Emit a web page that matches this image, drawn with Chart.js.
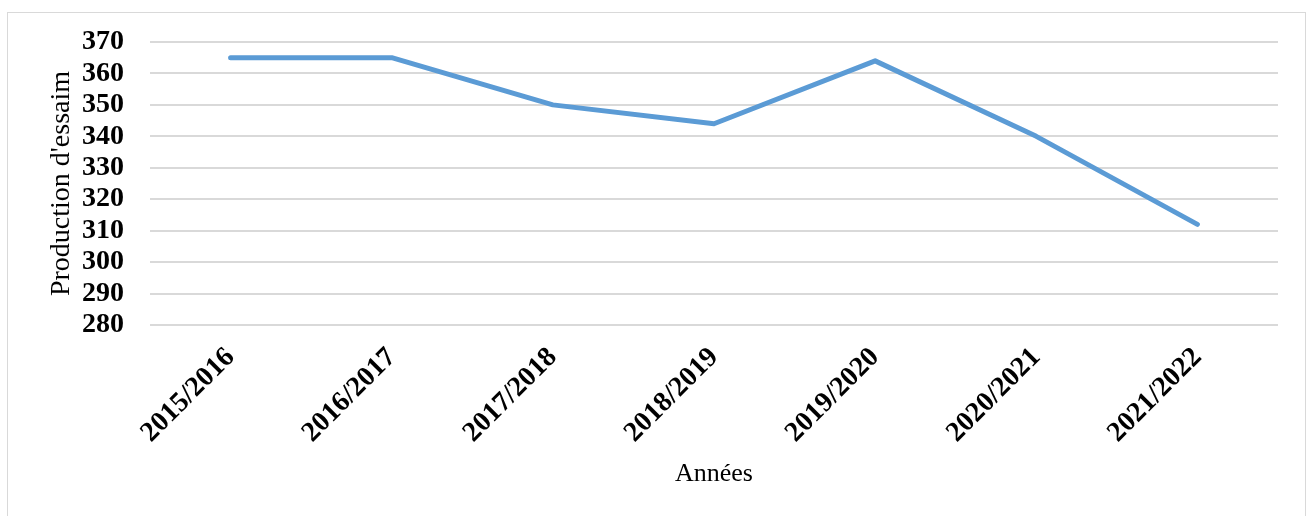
<!DOCTYPE html>
<html>
<head>
<meta charset="utf-8">
<script src="https://cdn.jsdelivr.net/npm/chart.js"></script>
<style>
  html, body { margin: 0; padding: 0; background: #fff; }
  #box {
    position: absolute; left: 7px; top: 12px;
    width: 1297px; height: 503px;
    border: 1px solid #d9d9d9;
  }
</style>
</head>
<body>
<div id="box"><canvas id="lineChart"></canvas></div>
<script>
const years = ['2015/2016', '2016/2017', '2017/2018', '2018/2019', '2019/2020', '2020/2021', '2021/2022'];
const swarms = [365, 365, 350, 344, 364, 340, 312];
const yTicks = [280, 290, 300, 310, 320, 330, 340, 350, 360, 370];

const serif = "'Liberation Serif', 'Times New Roman', serif";

new Chart(document.getElementById('lineChart'), {
    type: 'line',
    data: {
        labels: years,
        datasets: [{
            data: swarms,
            borderColor: '#5b9bd5',
            borderWidth: 5,
            pointRadius: 0,
            borderCapStyle: 'round',
            borderJoinStyle: 'round',
            tension: 0
        }]
    },
    options: {
        responsive: true,
        maintainAspectRatio: false,
        animation: false,
        layout: {
            padding: { left: 33, right: 27, top: 29, bottom: 22 }
        },
        plugins: {
            legend: { display: false },
            tooltip: { enabled: false }
        },
        scales: {
            x: {
                offset: true,
                grid: { display: false, drawTicks: false },
                border: { display: false },
                ticks: {
                    autoSkip: false,
                    minRotation: 45,
                    maxRotation: 45,
                    padding: 16,
                    color: '#000',
                    font: { family: serif, size: 28, weight: 'bold' }
                },
                title: {
                    display: true,
                    text: 'Années',
                    color: '#000',
                    font: { family: serif, size: 26 }
                },
                afterFit: (scale) => {
                    scale.height = 169;
                    scale.paddingLeft = 0;
                    scale.paddingRight = 0;
                }
            },
            y: {
                min: yTicks[0],
                max: yTicks[yTicks.length - 1],
                afterBuildTicks: (scale) => {
                    scale.ticks = yTicks.map(v => ({ value: v }));
                },
                grid: { color: '#d9d9d9', lineWidth: 2, drawTicks: false },
                border: { display: false },
                ticks: {
                    autoSkip: false,
                    padding: 26,
                    color: '#000',
                    font: { family: serif, size: 28, weight: 'bold' }
                },
                title: {
                    display: true,
                    text: "Production d'essaim",
                    color: '#000',
                    font: { family: serif, size: 28 }
                },
                afterFit: (scale) => {
                    scale.width = 109;
                    scale.paddingTop = 0;
                    scale.paddingBottom = 0;
                }
            }
        }
    }
});
</script>
</body>
</html>
